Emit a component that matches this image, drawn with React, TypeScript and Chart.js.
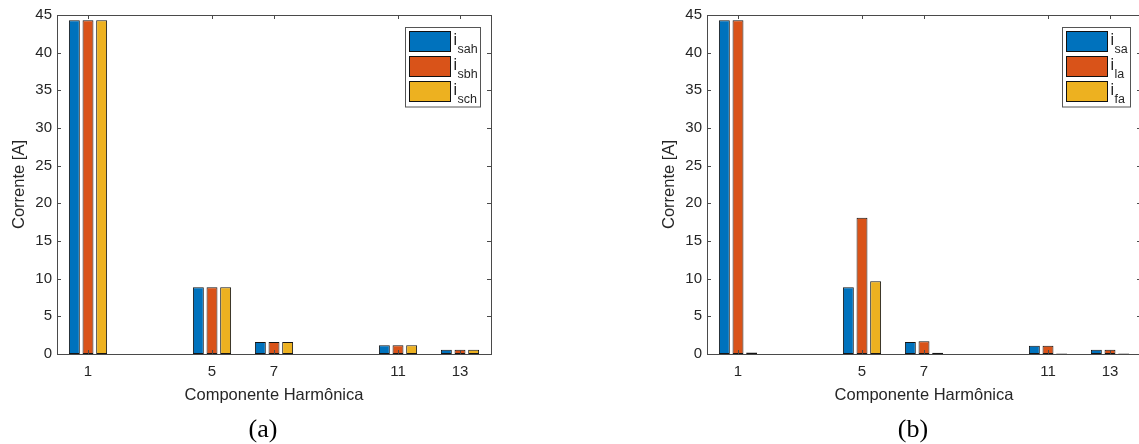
import React, { useEffect, useRef } from "react";
import { Chart, registerables } from "chart.js";

Chart.register(...registerables);

// ---- data ----
const harmonics = [1, 5, 7, 11, 13];

const seriesA_sah = [44.3, 8.85, 1.6, 1.15, 0.55];
const seriesA_sbh = [44.3, 8.85, 1.6, 1.15, 0.55];
const seriesA_sch = [44.3, 8.85, 1.6, 1.15, 0.55];

const seriesB_sa = [44.3, 8.85, 1.6, 1.08, 0.58];
const seriesB_la = [44.3, 18.1, 1.68, 1.08, 0.58];
const seriesB_fa = [0.2, 9.65, 0.18, 0.06, 0.05];

const legendSubsA = ["sah", "sbh", "sch"];
const legendSubsB = ["sa", "la", "fa"];

const xTitle = "Componente Harmônica";
const yTitle = "Corrente [A]";
const captionA = "(a)";
const captionB = "(b)";

const COLORS = ["#0072BD", "#D95319", "#EDB120"];
const AXIS = "#4a4a4a";
const TEXT = "#262626";
const FONT = "'Liberation Sans', Arial, Helvetica, sans-serif";

const matlabFrame = {
  id: "matlabFrame",
  afterDatasetsDraw(chart: any, _args: any, opts: any) {
    const { ctx, chartArea: a, scales } = chart;
    const tl = 4;
    ctx.save();
    ctx.strokeStyle = AXIS;
    ctx.lineWidth = 1;
    ctx.beginPath();
    scales.x.ticks.forEach((t: any) => {
      const px = Math.round(scales.x.getPixelForValue(t.value)) + 0.5;
      ctx.moveTo(px, a.bottom);
      ctx.lineTo(px, a.bottom - tl);
      ctx.moveTo(px, a.top);
      ctx.lineTo(px, a.top + tl);
    });
    scales.y.ticks.forEach((t: any) => {
      const py = Math.round(scales.y.getPixelForValue(t.value)) + 0.5;
      ctx.moveTo(a.left, py);
      ctx.lineTo(a.left + tl, py);
      ctx.moveTo(a.right, py);
      ctx.lineTo(a.right - tl, py);
    });
    ctx.stroke();
    ctx.strokeRect(
      Math.round(a.left) + 0.5,
      Math.round(a.top) + 0.5,
      Math.round(a.right - a.left),
      Math.round(a.bottom - a.top)
    );

    // legend with subscripts
    const subs: string[] = opts.subs || [];
    const mainFont = `16px ${FONT}`;
    const subFont = `12.5px ${FONT}`;
    ctx.font = mainFont;
    const iw = ctx.measureText("i").width;
    ctx.font = subFont;
    let sw = 0;
    subs.forEach((s) => (sw = Math.max(sw, ctx.measureText(s).width)));
    const swW = 41, swH = 20, padL = 3.5, gap = 3, padR = 3.5, rowStep = 25.2;
    const boxW = padL + swW + gap + iw + 0.5 + sw + padR;
    const boxH = 79.5;
    const bx = Math.round(a.right - 11 - boxW) + 0.5;
    const by = Math.round(a.top + 12) + 0.5;
    ctx.fillStyle = "#ffffff";
    ctx.fillRect(bx, by, boxW, boxH);
    ctx.strokeStyle = "#555";
    ctx.strokeRect(bx, by, Math.round(boxW), boxH);
    subs.forEach((s, i) => {
      const sy = Math.round(by + 3.5 + i * rowStep) + 0.5;
      const sx = Math.round(bx + padL) + 0.5;
      ctx.fillStyle = COLORS[i];
      ctx.fillRect(sx, sy, swW, swH);
      ctx.strokeStyle = "#111";
      ctx.strokeRect(sx, sy, swW, swH);
      const cy = sy + swH / 2;
      const tx = sx + swW + gap;
      ctx.fillStyle = TEXT;
      ctx.textBaseline = "alphabetic";
      ctx.textAlign = "left";
      ctx.font = mainFont;
      ctx.fillText("i", tx, cy + 3);
      ctx.font = subFont;
      ctx.fillText(s, tx + iw + 0.5, cy + 11.5);
    });
    ctx.restore();
  },
};

function makeConfig(series: number[][], subs: string[], padRight: number): any {
  return {
    type: "bar",
    data: {
      datasets: series.map((vals, i) => ({
        label: "i" + subs[i],
        data: harmonics.map((h, k) => ({ x: h, y: vals[k] })),
        backgroundColor: COLORS[i],
        borderColor: "#151515",
        borderWidth: 1,
        borderSkipped: false,
        categoryPercentage: 0.66,
        barPercentage: 0.8,
      })),
    },
    options: {
      responsive: false,
      animation: false,
      events: [],
      layout: { padding: { top: 15, right: padRight, left: 0, bottom: 0 } },
      plugins: {
        legend: { display: false },
        tooltip: { enabled: false },
        matlabFrame: { subs },
      },
      scales: {
        x: {
          type: "linear",
          min: 0,
          max: 14,
          offset: false,
          grid: { display: false, drawTicks: false },
          border: { display: false },
          afterBuildTicks: (s: any) => {
            s.ticks = harmonics.map((v) => ({ value: v }));
          },
          afterFit: (s: any) => {
            s.height = 90;
          },
          ticks: {
            autoSkip: false,
            maxRotation: 0,
            padding: 9,
            color: TEXT,
            font: { size: 15, family: FONT },
          },
          title: {
            display: true,
            text: xTitle,
            color: TEXT,
            font: { size: 16.5, family: FONT },
            padding: { top: 0, bottom: 39 },
          },
        },
        y: {
          type: "linear",
          min: 0,
          max: 45,
          grid: { display: false, drawTicks: false },
          border: { display: false },
          afterFit: (s: any) => {
            s.width = 57;
          },
          ticks: {
            stepSize: 5,
            padding: 5,
            color: TEXT,
            font: { size: 15, family: FONT },
          },
          title: {
            display: true,
            text: yTitle,
            color: TEXT,
            font: { size: 16.5, family: FONT },
            padding: { top: 10, bottom: 0 },
          },
        },
      },
    },
    plugins: [matlabFrame],
  };
}

function BarPanel(props: {
  series: number[][];
  subs: string[];
  left: number;
  width: number;
  padRight: number;
}) {
  const ref = useRef<HTMLCanvasElement | null>(null);
  useEffect(() => {
    if (!ref.current) return;
    const chart = new Chart(ref.current, makeConfig(props.series, props.subs, props.padRight));
    return () => chart.destroy();
  }, []);
  return (
    <canvas
      ref={ref}
      width={props.width}
      height={444}
      style={{ position: "absolute", left: props.left, top: 0, width: props.width, height: 444 }}
    />
  );
}

const captionStyle = (cx: number): React.CSSProperties => ({
  position: "absolute",
  left: cx,
  top: 416,
  transform: "translateX(-50%)",
  fontFamily: "'Liberation Serif', 'Times New Roman', serif",
  fontSize: 26,
  lineHeight: 1,
  color: "#000",
  whiteSpace: "nowrap",
});

export default function App() {
  return (
    <div
      style={{
        position: "absolute",
        left: 0,
        top: 0,
        width: 1139,
        height: 444,
        overflow: "hidden",
        background: "#fff",
      }}
    >
      <BarPanel series={[seriesA_sah, seriesA_sbh, seriesA_sch]} subs={legendSubsA} left={0} width={569} padRight={78} />
      <BarPanel series={[seriesB_sa, seriesB_la, seriesB_fa]} subs={legendSubsB} left={650} width={492} padRight={1} />
      <div style={captionStyle(263)}>{captionA}</div>
      <div style={captionStyle(913)}>{captionB}</div>
    </div>
  );
}
